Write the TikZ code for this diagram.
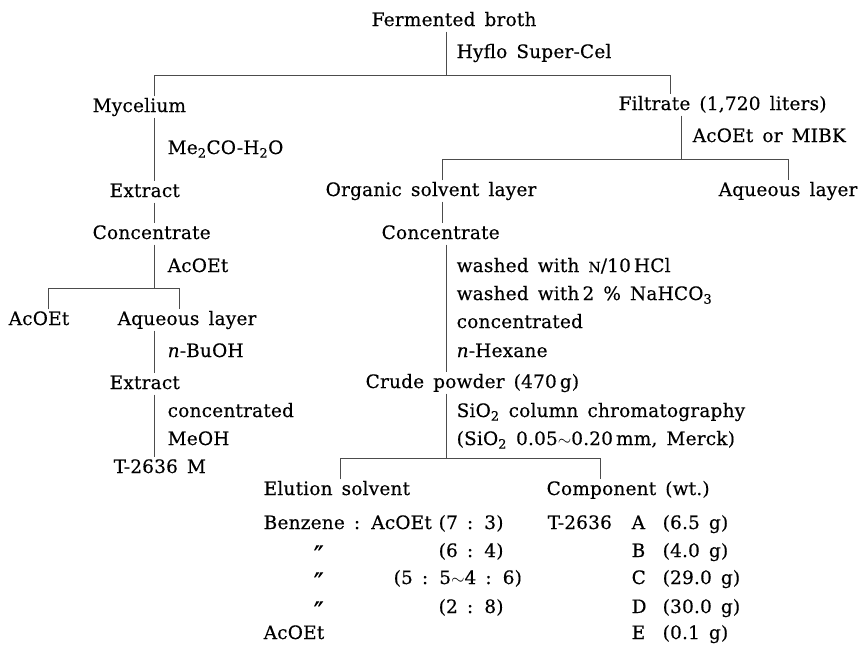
\documentclass[tikz,border=0pt]{standalone}
\usepackage{fontspec}
\setmainfont[WordSpace=1.5, LetterSpace=1, FakeBold=0.3]{DejaVu Serif}
\usepackage{tikz}

\begin{document}
\begin{tikzpicture}[x=1pt, y=-1pt,
        lbl/.style={anchor=base west, inner sep=1.5pt, text height=14pt, text depth=4pt, font=\fontsize{18.5}{20}\selectfont},
        branch/.style={draw=black!70, line width=0.9pt}]
        \useasboundingbox[fill=white] (0,0) rectangle (862,645);

        \node[lbl] (broth) at (370,26) {Fermented broth};
        \node[lbl] (hyflo) at (455,58) {Hyflo Super-Cel};
        \node[lbl] (myc) at (91,112) {Mycelium};
        \node[lbl] (filt) at (617,110) {Filtrate (1,720 liters)};
        \node[lbl] (meco) at (166,154) {Me\textsubscript{2}CO-H\textsubscript{2}O};
        \node[lbl] (mibk) at (691,142) {AcOEt or MIBK};
        \node[lbl] (ext1) at (108,197) {Extract};
        \node[lbl] (org) at (324,196) {Organic solvent layer};
        \node[lbl] (aq1) at (717,196) {Aqueous layer};
        \node[lbl] (conc1) at (91,239) {Concentrate};
        \node[lbl] (conc2) at (380,239) {Concentrate};
        \node[lbl] (aco1) at (166,272) {AcOEt};
        \node[lbl] (wash1) at (455,272) {washed with {\fontsize{14}{14}\selectfont N}/10\,HCl};
        \node[lbl] (wash2) at (455,300) {washed with\,2 \% NaHCO\textsubscript{3}};
        \node[lbl] (cons1) at (455,328) {concentrated};
        \node[lbl] (aco2) at (7,325) {AcOEt};
        \node[lbl] (aq2) at (116,325) {Aqueous layer};
        \node[lbl] (buoh) at (166,357) {\textit{n}-BuOH};
        \node[lbl] (hex) at (455,357) {\textit{n}-Hexane};
        \node[lbl] (ext2) at (108,389) {Extract};
        \node[lbl] (crude) at (364,388) {Crude powder (470\,g)};
        \node[lbl] (cons2) at (166,417) {concentrated};
        \node[lbl] (col) at (455,417) {SiO\textsubscript{2} column chromatography};
        \node[lbl] (meoh) at (166,445) {MeOH};
        \node[lbl] (merck) at (455,445) {(SiO\textsubscript{2} 0.05$\sim$0.20\,mm, Merck)};
        \node[lbl] (tm) at (112,473) {T-2636 M};
        \node[lbl] (elut) at (262,495) {Elution solvent};
        \node[lbl] (comp) at (545,495) {Component (wt.)};

        % elution table
        \node[lbl] (benz) at (262,529) {Benzene : AcOEt};
        \node[lbl] (ra) at (437,529) {(7 : 3)};
        \node[lbl] (db) at (312,557) {\fontsize{27}{27}\selectfont\raisebox{-0.3em}{″}};
        \node[lbl] (rb) at (437,557) {(6 : 4)};
        \node[lbl] (dc) at (312,584) {\fontsize{27}{27}\selectfont\raisebox{-0.3em}{″}};
        \node[lbl] (rc) at (392,584) {(5 : 5$\sim$4 : 6)};
        \node[lbl] (dd) at (312,613) {\fontsize{27}{27}\selectfont\raisebox{-0.3em}{″}};
        \node[lbl] (rd) at (437,613) {(2 : 8)};
        \node[lbl] (aco3) at (262,639) {AcOEt};
        \node[lbl] (tcode) at (546,529) {T-2636};
        \node[lbl] (ca) at (630,529) {A};
        \node[lbl] (wa) at (661,529) {(6.5 g)};
        \node[lbl] (cb) at (630,557) {B};
        \node[lbl] (wb) at (661,557) {(4.0 g)};
        \node[lbl] (cc) at (630,584) {C};
        \node[lbl] (wc) at (661,584) {(29.0 g)};
        \node[lbl] (cd) at (630,613) {D};
        \node[lbl] (wd) at (661,613) {(30.0 g)};
        \node[lbl] (ce) at (630,639) {E};
        \node[lbl] (we) at (661,639) {(0.1 g)};

        % branch points
        \coordinate (s1) at (446,75);
        \coordinate (l1) at (154,75);
        \coordinate (r1) at (670,75);
        \coordinate (s2) at (154,288);
        \coordinate (l2) at (48,288);
        \coordinate (r2) at (179,288);
        \coordinate (s3) at (681,159);
        \coordinate (l3) at (442,159);
        \coordinate (r3) at (788,159);
        \coordinate (s4) at (446,458);
        \coordinate (l4) at (340,458);
        \coordinate (r4) at (600,458);

        \draw[branch] (broth.south -| s1) -- (s1);
        \draw[branch] (myc.north -| l1) -- (l1) -- (r1) -- (filt.north -| r1);
        \draw[branch] (myc.south -| l1) -- (ext1.north -| l1);
        \draw[branch] (ext1.south -| l1) -- (conc1.north -| l1);
        \draw[branch] (conc1.south -| s2) -- (s2);
        \draw[branch] (aco2.north -| l2) -- (l2) -- (r2) -- (aq2.north -| r2);
        \draw[branch] (aq2.south -| s2) -- (ext2.north -| s2);
        \draw[branch] (ext2.south -| s2) -- (tm.north -| s2);
        \draw[branch] (filt.south -| s3) -- (s3);
        \draw[branch] (org.north -| l3) -- (l3) -- (r3) -- (aq1.north -| r3);
        \draw[branch] (org.south -| l3) -- (conc2.north -| l3);
        \draw[branch] (conc2.south -| s4) -- (crude.north -| s4);
        \draw[branch] (crude.south -| s4) -- (s4);
        \draw[branch] (elut.north -| l4) -- (l4) -- (r4) -- (comp.north -| r4);
    \end{tikzpicture}
\end{document}
